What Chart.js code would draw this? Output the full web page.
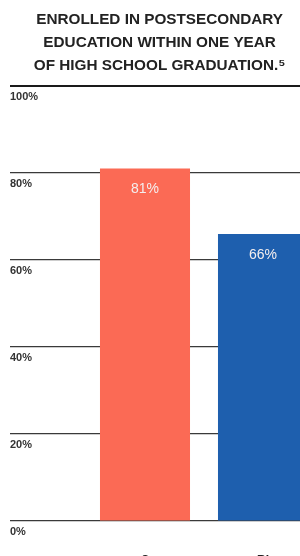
<!DOCTYPE html>
<html>
<head>
<meta charset="utf-8">
<style>
  html, body { margin: 0; padding: 0; background: #fff; }
  #wrap { width: 300px; height: 556px; overflow: hidden; position: relative; }
  #box { width: 340px; height: 572px; }
</style>
<script src="https://cdn.jsdelivr.net/npm/chart.js@4/dist/chart.umd.min.js"></script>
</head>
<body>
<div id="wrap"><div id="box"><canvas id="chart"></canvas></div></div>
<script>
// ==== Data ====
const categories = ['C', 'RI'];
const enrolledPct = [81, 66];
const barColors = ['#fb6a55', '#1e5fae'];
const titleLines = ['ENROLLED IN POSTSECONDARY', 'EDUCATION WITHIN ONE YEAR', 'OF HIGH SCHOOL GRADUATION.\u2075'];
const yTicks = [0, 20, 40, 60, 80, 100];

// ==== Value labels inside bars ====
const barLabels = {
  id: 'barLabels',
  afterDatasetsDraw(chart) {
    const ctx = chart.ctx;
    const meta = chart.getDatasetMeta(0);
    ctx.save();
    ctx.font = '14px "Liberation Sans", Arial, sans-serif';
    ctx.fillStyle = '#f4eeee';
    ctx.textAlign = 'center';
    ctx.textBaseline = 'middle';
    meta.data.forEach((bar, i) => {
      ctx.fillText(enrolledPct[i] + '%', bar.x, bar.y + 21);
    });
    ctx.restore();
  }
};

// the title sits a bit left of the plot centre in the original, pad the right side
const paddedTitle = titleLines.map(t => t + '\u00a0\u00a0\u00a0');

new Chart(document.getElementById('chart'), {
  type: 'bar',
  data: {
    labels: categories,
    datasets: [{
      data: enrolledPct,
      backgroundColor: barColors,
      borderWidth: 0,
      categoryPercentage: 1,
      barPercentage: 0.763
    }]
  },
  options: {
    responsive: true,
    maintainAspectRatio: false,
    animation: false,
    layout: { padding: { left: 10, right: 18, top: 0, bottom: 0 } },
    plugins: {
      legend: { display: false },
      tooltip: { enabled: false },
      title: {
        display: true,
        text: paddedTitle,
        color: '#222',
        font: { family: '"Liberation Sans", Arial, sans-serif', size: 15.3, weight: 'bold', lineHeight: 1.52 },
        padding: { top: 8, bottom: 8.2 }
      }
    },
    scales: {
      x: {
        grid: { display: false },
        border: { display: false },
        ticks: {
          color: '#222',
          padding: 24,
          font: { family: '"Liberation Sans", Arial, sans-serif', size: 12, weight: 'bold' }
        },
        afterFit(scale) { scale.height = 51; }
      },
      y: {
        min: 0,
        max: 100,
        afterBuildTicks(scale) { scale.ticks = yTicks.map(v => ({ value: v })); },
        afterFit(scale) { scale.width = 76; },
        border: { display: false },
        grid: {
          drawTicks: true,
          tickLength: 76,
          color: ctx => ctx.tick && ctx.tick.value === 100 ? '#1a1a1a' : '#3a3a3a',
          lineWidth: ctx => ctx.tick && ctx.tick.value === 100 ? 2 : 1.2
        },
        ticks: {
          crossAlign: 'far',
          labelOffset: 11,
          color: '#333',
          font: { family: '"Liberation Sans", Arial, sans-serif', size: 11, weight: 'bold' },
          callback: v => v + '%'
        }
      }
    }
  },
  plugins: [barLabels]
});
</script>
</body>
</html>
